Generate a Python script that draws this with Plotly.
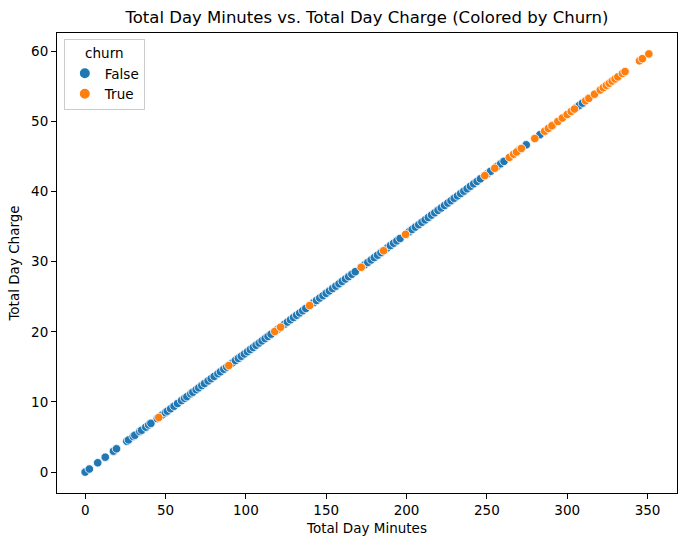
import plotly.graph_objects as go

# churn = False
false_minutes = [0.0, 2.6, 7.8, 12.5, 17.6, 19.5, 25.9, 27.0, 29.9, 30.9, 34.0, 35.1, 37.7, 39.5,
                 40.9, 44.9, 47.8, 49.9, 51.1, 53.2, 55.3, 57.5, 60.0, 61.9, 63.3, 65.7, 67.0, 69.1,
                 70.7, 72.6, 74.3, 76.5, 78.4, 80.3, 82.6, 84.2, 86.3, 88.1, 91.6, 93.5, 95.4, 97.2,
                 99.1, 101.0, 102.8, 104.6, 106.4, 108.3, 110.1, 112.0, 113.8, 115.7, 119.9, 124.0,
                 125.9, 127.8, 129.7, 131.6, 133.5, 135.4, 137.3, 142.1, 144.0, 146.0, 148.0, 150.0,
                 152.0, 154.0, 156.0, 158.0, 160.0, 162.0, 164.0, 166.0, 168.1, 173.9, 175.9, 178.0,
                 180.0, 182.0, 184.1, 188.0, 190.0, 192.0, 194.0, 196.0, 201.5, 203.5, 205.5, 207.6,
                 209.6, 211.6, 213.6, 215.6, 217.6, 219.6, 221.6, 223.7, 225.7, 227.7, 229.7, 231.7,
                 233.7, 235.7, 237.7, 239.8, 241.8, 243.9, 246.0, 250.2, 252.3, 256.5, 258.6, 260.7,
                 270.0, 274.5, 283.0, 291.0, 306.0, 307.5, 309.5]
false_charge = [0.00, 0.44, 1.33, 2.13, 2.99, 3.32, 4.40, 4.59, 5.08, 5.25, 5.78, 5.97, 6.41, 6.72,
                6.95, 7.63, 8.13, 8.48, 8.69, 9.04, 9.40, 9.78, 10.20, 10.52, 10.76, 11.17, 11.39, 11.75,
                12.02, 12.34, 12.63, 13.01, 13.33, 13.65, 14.04, 14.31, 14.67, 14.98, 15.57, 15.90, 16.22, 16.52,
                16.85, 17.17, 17.48, 17.78, 18.09, 18.41, 18.72, 19.04, 19.35, 19.67, 20.38, 21.08,
                21.40, 21.73, 22.05, 22.37, 22.70, 23.02, 23.34, 24.16, 24.48, 24.82, 25.16, 25.50,
                25.84, 26.18, 26.52, 26.86, 27.20, 27.54, 27.88, 28.22, 28.58, 29.56, 29.90, 30.26,
                30.60, 30.94, 31.30, 31.96, 32.30, 32.64, 32.98, 33.32, 34.26, 34.60, 34.94, 35.29,
                35.63, 35.97, 36.31, 36.65, 36.99, 37.33, 37.67, 38.03, 38.37, 38.71, 39.05, 39.39,
                39.73, 40.07, 40.41, 40.77, 41.11, 41.46, 41.82, 42.53, 42.89, 43.61, 43.96, 44.32,
                45.90, 46.67, 48.11, 49.47, 52.02, 52.28, 52.62]

# churn = True
true_minutes = [45.8, 89.4, 118.0, 121.6, 139.7, 171.8, 185.7, 199.4, 248.7, 254.9, 264.0, 266.7,
                268.5, 271.5, 279.8, 286.0, 288.3, 290.5, 294.2, 297.0, 300.0, 302.5, 304.5, 311.5,
                313.5, 317.0, 320.6, 322.5, 324.4, 326.2, 328.0, 329.8, 331.5, 334.4, 336.0, 345.0,
                346.8, 350.8]
true_charge = [7.79, 15.20, 20.06, 20.67, 23.75, 29.21, 31.57, 33.90, 42.28, 43.33, 44.88, 45.34,
               45.65, 46.16, 47.57, 48.62, 49.01, 49.39, 50.01, 50.49, 51.00, 51.43, 51.77, 52.96,
               53.30, 53.89, 54.50, 54.83, 55.15, 55.45, 55.76, 56.07, 56.36, 56.85, 57.12, 58.65,
               58.96, 59.64]

x_ticks = [0, 50, 100, 150, 200, 250, 300, 350]
y_ticks = [0, 10, 20, 30, 40, 50, 60]

fig = go.Figure()
fig.add_trace(go.Scatter(x=false_minutes, y=false_charge, mode='markers', name='False',
                         marker=dict(color='#1f77b4', size=8.5, line=dict(color='white', width=0.8))))
fig.add_trace(go.Scatter(x=true_minutes, y=true_charge, mode='markers', name='True',
                         marker=dict(color='#ff7f0e', size=8.5, line=dict(color='white', width=0.8))))

axis_style = dict(showline=True, mirror=True, linecolor='black', linewidth=1.1, ticks='outside',
                  ticklen=5, tickcolor='black', showgrid=False, zeroline=False, automargin=False,
                  tickfont=dict(size=13.5, color='black'))

fig.update_layout(
    width=686, height=547,
    margin=dict(l=57, r=9, t=33, b=54),
    plot_bgcolor='white', paper_bgcolor='white',
    font=dict(family='DejaVu Sans', color='black'),
    title=dict(text='Total Day Minutes vs. Total Day Charge (Colored by Churn)',
               x=0.5, xref='paper', xanchor='center', y=1 - 17 / 547, yref='container',
               yanchor='middle', font=dict(size=16.5)),
    xaxis=dict(axis_style, range=[-17.54, 368.34], tickvals=x_ticks,
               title=dict(text='Total Day Minutes', font=dict(size=13.5), standoff=6)),
    yaxis=dict(axis_style, range=[-2.98, 62.62], tickvals=y_ticks,
               title=dict(text='Total Day Charge', font=dict(size=13.5), standoff=8)),
    legend=dict(title=dict(text='churn', side='top center', font=dict(size=13.5)),
                x=0.011, y=0.986, xanchor='left', yanchor='top',
                bordercolor='#cccccc', borderwidth=1, bgcolor='rgba(255,255,255,0.8)',
                font=dict(size=13.5), itemsizing='constant'),
)

fig.write_html("out.html", config={'displayModeBar': False},
               post_script="document.body.style.margin='0';")
